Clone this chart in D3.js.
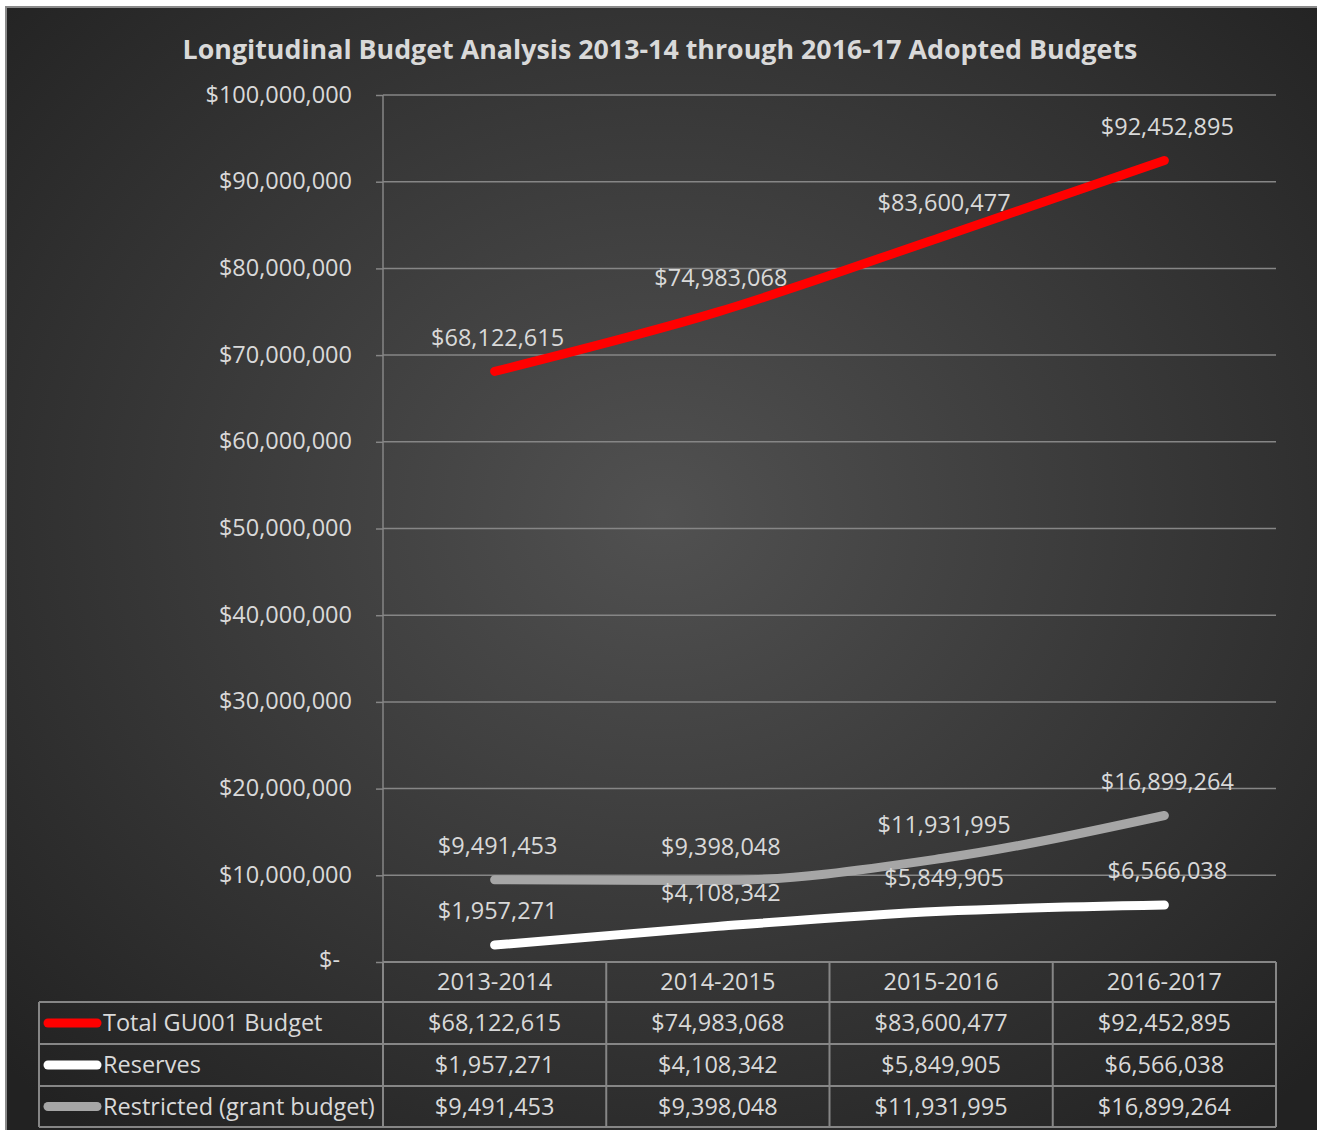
<!DOCTYPE html>
<html>
<head>
<meta charset="utf-8">
<script src="https://cdn.jsdelivr.net/npm/d3@7"></script>
<style>
  html, body { margin: 0; padding: 0; background: #ffffff; }
  svg { display: block; }
</style>
</head>
<body>
<svg id="chart" width="1317" height="1130"></svg>
<script>
const title = "Longitudinal Budget Analysis 2013-14 through 2016-17 Adopted Budgets";
const categories = ["2013-2014", "2014-2015", "2015-2016", "2016-2017"];
const seriesNames = ["Total GU001 Budget", "Reserves", "Restricted (grant budget)"];
const totalBudget = [68122615, 74983068, 83600477, 92452895];
const reserves = [1957271, 4108342, 5849905, 6566038];
const restricted = [9491453, 9398048, 11931995, 16899264];
const seriesColors = ["#ff0000", "#ffffff", "#a6a6a6"];
const yTicks = [0, 10000000, 20000000, 30000000, 40000000, 50000000, 60000000, 70000000, 80000000, 90000000, 100000000];

const series = [totalBudget, reserves, restricted].map((vals, i) => ({
  name: seriesNames[i], color: seriesColors[i], values: vals
}));

const FONT = "'Open Sans', 'Noto Sans', sans-serif";
const TXT = "#d9d9d9";
const GRID = "#868686";
const FS = 23.5;

const svg = d3.select("#chart");
const defs = svg.append("defs");
const grad = defs.append("radialGradient").attr("id", "bg")
  .attr("cx", "50%").attr("cy", "45%").attr("r", "70%");
grad.append("stop").attr("offset", "0%").attr("stop-color", "#515151");
grad.append("stop").attr("offset", "100%").attr("stop-color", "#222222");

svg.append("rect").attr("x", 6).attr("y", 7).attr("width", 1312).attr("height", 1130)
  .attr("fill", "url(#bg)").attr("stroke", "#8a8a8a").attr("stroke-width", 2);

const plot = { left: 383, right: 1276, top: 95, bottom: 962 };

const x = d3.scaleBand().domain(categories).range([plot.left, plot.right]).padding(0);
const y = d3.scaleLinear().domain([0, 100000000]).range([plot.bottom, plot.top]);

// title
svg.append("text").attr("x", 660).attr("y", 59).attr("text-anchor", "middle")
  .attr("font-family", FONT).attr("font-weight", "bold").attr("font-size", 26.8)
  .attr("fill", TXT).text(title);

// gridlines
svg.append("g").selectAll("line").data(yTicks.filter(d => d > 0)).join("line")
  .attr("x1", plot.left).attr("x2", plot.right)
  .attr("y1", d => y(d)).attr("y2", d => y(d))
  .attr("stroke", GRID).attr("stroke-width", 1.5);

// y axis
const fmt = d3.format("$,.0f");
const yAxis = d3.axisLeft(y).tickValues(yTicks).tickSize(7).tickPadding(24)
  .tickFormat(d => d === 0 ? "$-" : fmt(d));
const yg = svg.append("g").attr("transform", `translate(${plot.left},0)`).call(yAxis);
yg.select(".domain").attr("stroke", GRID).attr("stroke-width", 1.5)
  .attr("d", `M0,${plot.top}V${plot.bottom}`);
yg.selectAll(".tick line").attr("stroke", GRID).attr("stroke-width", 1.5);
yg.selectAll(".tick text").attr("font-family", FONT).attr("font-size", FS)
  .attr("fill", TXT).attr("dy", "0.3em");
yg.selectAll(".tick").filter(d => d === 0).select("text").attr("dx", -12).attr("dy", "0.25em");

// lines
const line = d3.line()
  .x((d, i) => x(categories[i]) + x.bandwidth() / 2)
  .y(d => y(d))
  .curve(d3.curveMonotoneX);

const lineOrder = [1, 2, 0];
lineOrder.forEach(si => {
  const s = series[si];
  svg.append("path").datum(s.values).attr("d", line)
    .attr("fill", "none").attr("stroke", s.color).attr("stroke-width", 9)
    .attr("stroke-linecap", "round").attr("stroke-linejoin", "round");
});

// data labels
series.forEach(s => {
  svg.append("g").selectAll("text").data(s.values).join("text")
    .attr("x", (d, i) => x(categories[i]) + x.bandwidth() / 2 + 3)
    .attr("y", d => y(d) - 34)
    .attr("dy", "0.35em")
    .attr("text-anchor", "middle")
    .attr("font-family", FONT).attr("font-size", FS).attr("fill", TXT)
    .text(d => fmt(d));
});

// data table
const rows = [962, 1002, 1044, 1086, 1127];
const tableLeft = 39;
const tb = svg.append("g").attr("stroke", GRID).attr("stroke-width", 2).attr("fill", "none");
tb.append("line").attr("x1", plot.left).attr("x2", plot.right).attr("y1", rows[0]).attr("y2", rows[0]);
for (let r = 1; r < rows.length; r++) {
  tb.append("line").attr("x1", tableLeft).attr("x2", plot.right).attr("y1", rows[r]).attr("y2", rows[r]);
}
tb.append("line").attr("x1", tableLeft).attr("x2", tableLeft).attr("y1", rows[1]).attr("y2", rows[4]);
categories.forEach(c => {
  tb.append("line").attr("x1", x(c)).attr("x2", x(c)).attr("y1", rows[0]).attr("y2", rows[4]);
});
tb.append("line").attr("x1", plot.right).attr("x2", plot.right).attr("y1", rows[0]).attr("y2", rows[4]);

svg.append("g").selectAll("text").data(categories).join("text")
  .attr("x", d => x(d) + x.bandwidth() / 2)
  .attr("y", (rows[0] + rows[1]) / 2).attr("dy", "0.36em")
  .attr("text-anchor", "middle").attr("font-family", FONT).attr("font-size", FS)
  .attr("fill", TXT).text(d => d);

series.forEach((s, si) => {
  const cy = (rows[si + 1] + rows[si + 2]) / 2;
  svg.append("line").attr("x1", 48).attr("x2", 97).attr("y1", cy).attr("y2", cy)
    .attr("stroke", s.color).attr("stroke-width", 9).attr("stroke-linecap", "round");
  svg.append("text").attr("x", 103).attr("y", cy).attr("dy", "0.36em")
    .attr("font-family", FONT).attr("font-size", FS).attr("fill", TXT).text(s.name);
  svg.append("g").selectAll("text").data(s.values).join("text")
    .attr("x", (d, i) => x(categories[i]) + x.bandwidth() / 2)
    .attr("y", cy).attr("dy", "0.36em")
    .attr("text-anchor", "middle").attr("font-family", FONT).attr("font-size", FS)
    .attr("fill", TXT).text(d => fmt(d));
});
</script>
</body>
</html>
